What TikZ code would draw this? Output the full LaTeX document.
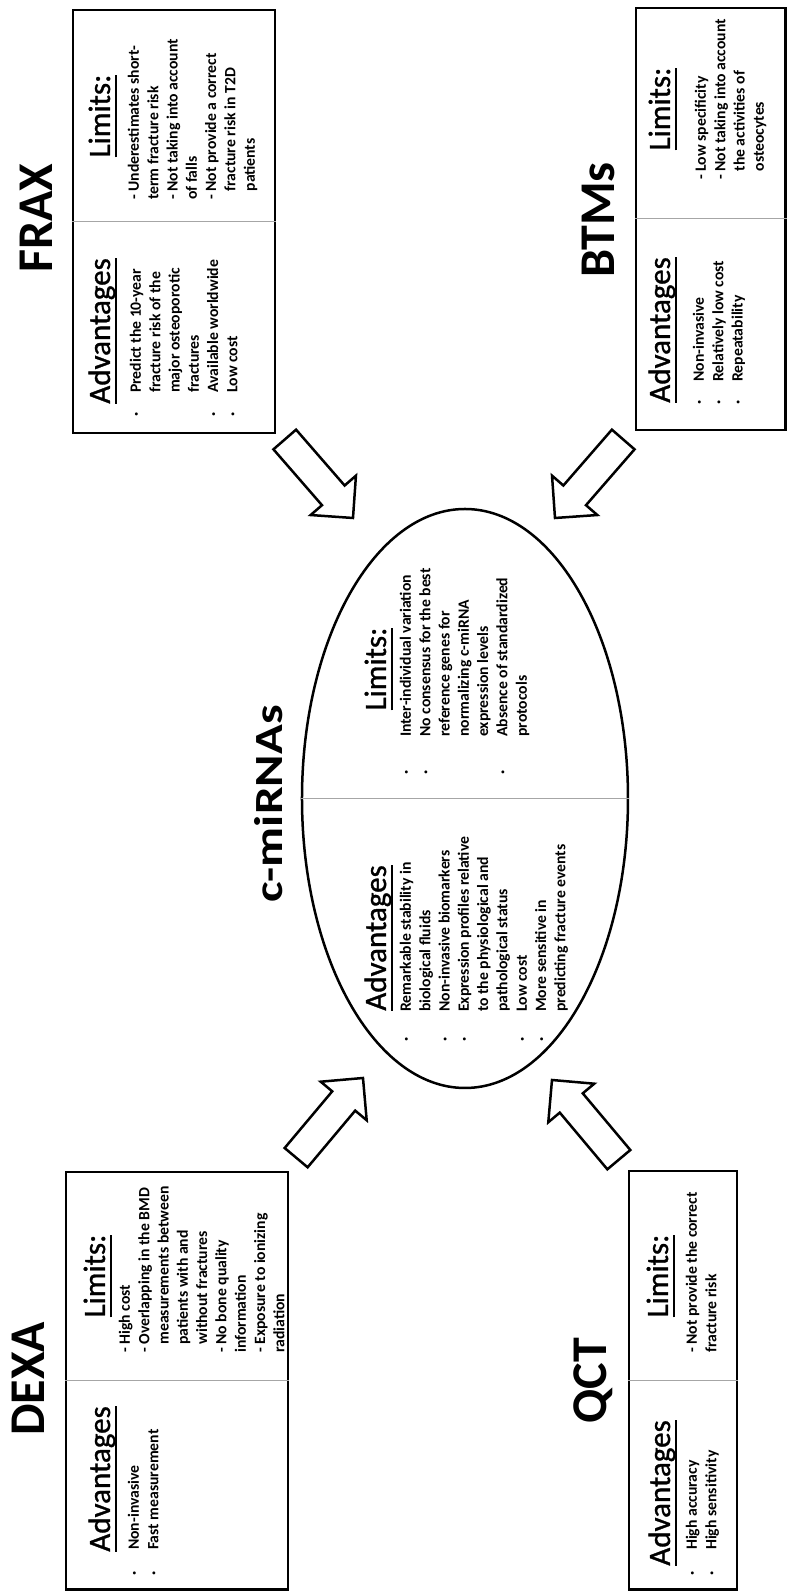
\documentclass[tikz,border=0pt]{standalone}
\usepackage{fontspec}
\setmainfont{Carlito}
\newfontfamily\headfont[FakeBold=1]{Carlito}
\usetikzlibrary{shapes.geometric}

\newcommand\headline[1]{\setbox0\hbox{#1}\rlap{\vrule height -5pt depth 7.2pt width \wd0}\box0}
\newcommand\bul[1]{\llap{·\hspace{#1}}}
\newcommand\ind{\hphantom{- }}

\tikzset{
    panel/.style={draw, line width=2.5pt, inner sep=0pt},
    divider/.style={draw=gray!70, line width=1pt},
    title/.style={font=\bfseries\fontsize{50}{60}\selectfont, anchor=base, inner sep=0pt},
    heading/.style={font=\headfont\fontsize{31}{37}\selectfont, anchor=base, inner sep=0pt},
    items/.style={font=\bfseries\fontsize{15.7}{19.3}\selectfont, anchor=base west, inner sep=0pt},
    blockarrow/.pic={
        \draw[line width=2.5pt, fill=white] (0,0) -- (-30,30) -- (-30,15) -- (-104,15)
            -- (-104,-15) -- (-30,-15) -- (-30,-30) -- cycle;
    }
}

\begin{document}
\begin{tikzpicture}[x=1pt, y=1pt, rotate=90, transform shape]
    \useasboundingbox (0,0) rectangle (1591,787);
    % centre
    \node[draw, ellipse, line width=2.5pt, inner sep=0pt, minimum width=579pt, minimum height=326pt] (cmirna) at (792.5,322) {};
    \draw[divider] (cmirna.north) -- (cmirna.south);
    \node[title, font=\bfseries\fontsize{40}{44}\selectfont, xscale=1.23] (cmtitle) at (787,504) {c-miRNAs};
    \node[heading] (cmadvh) at (653,401) {\headline{Advantages}};
    \node[heading] (cmlimh) at (922,401) {\headline{Limits:}};
    \node[items] (cmadv) at (579,376) {\begin{tabular}[t]{@{}l@{}}
        \bul{26pt}Remarkable stability in\\ biological fluids\\
        \bul{26pt}Non-invasive biomarkers\\
        \bul{26pt}Expression profiles relative\\ to the physiological and\\ pathological status\\
        \bul{26pt}Low cost\\
        \bul{26pt}More sensitive in\\ predicting fracture events
    \end{tabular}};
    \node[items] (cmlim) at (854,376) {\begin{tabular}[t]{@{}l@{}}
        \bul{34pt}Inter-individual variation\\
        \bul{34pt}No consensus for the best\\ reference genes for\\ normalizing c-miRNA\\ expression levels\\
        \bul{34pt}Absence of standardized\\ protocols
    \end{tabular}};
    % DEXA
    \node[panel, minimum width=417.5pt, minimum height=222pt] (dexa) at (210.25,610) {};
    \draw[divider] (dexa.north) -- (dexa.south);
    \node[title] (dexat) at (212,742) {DEXA};
    \node[heading] (dexaadvh) at (112,677) {\headline{Advantages}};
    \node[heading] (dexalimh) at (315,682) {\headline{Limits:}};
    \node[items] (dexaadv) at (41,648) {\begin{tabular}[t]{@{}l@{}}
        \bul{21pt}Non-invasive\\
        \bul{21pt}Fast measurement
    \end{tabular}};
    \node[items] (dexalim) at (238,657) {\begin{tabular}[t]{@{}l@{}}
        - High cost\\
        - Overlapping in the BMD\\ \ind measurements between\\ \ind patients with and\\ \ind without fractures\\
        - No bone quality\\ information\\
        - Exposure to ionizing\\ radiation
    \end{tabular}};
    % QCT
    \node[panel, minimum width=418.5pt, minimum height=108pt] (qct) at (210.75,104) {};
    \draw[divider] (qct.north) -- (qct.south);
    \node[title] (qctt) at (210.5,180) {QCT};
    \node[heading] (qctadvh) at (98,117) {\headline{Advantages}};
    \node[heading] (qctlimh) at (315,119) {\headline{Limits:}};
    \node[items] (qctadv) at (41,90) {\begin{tabular}[t]{@{}l@{}}
        \bul{21pt}High accuracy\\
        \bul{21pt}High sensitivity
    \end{tabular}};
    \node[items] (qctlim) at (238,90) {\begin{tabular}[t]{@{}l@{}}
        - Not provide the correct\\ fracture risk
    \end{tabular}};
    % FRAX
    \node[panel, minimum width=423pt, minimum height=202pt] (frax) at (1369.5,613) {};
    \draw[divider] (frax.north) -- (frax.south);
    \node[title] (fraxt) at (1373,734) {FRAX};
    \node[heading] (fraxadvh) at (1260,677) {\headline{Advantages}};
    \node[heading] (fraxlimh) at (1475,677) {\headline{Limits:}};
    \node[items] (fraxadv) at (1198,646) {\begin{tabular}[t]{@{}l@{}}
        \bul{20pt}Predict the 10-year\\ fracture risk of the\\ major osteoporotic\\ fractures\\
        \bul{20pt}Available worldwide\\
        \bul{20pt}Low cost
    \end{tabular}};
    \node[items] (fraxlim) at (1391,648) {\begin{tabular}[t]{@{}l@{}}
        - Underestimates short-\\ term fracture risk\\
        - Not taking into account\\ of falls\\
        - Not provide a correct\\ \ind fracture risk in T2D\\ \ind patients
    \end{tabular}};
    % BTMs
    \node[panel, minimum width=422pt, minimum height=149.5pt] (btms) at (1372,76.25) {};
    \draw[divider] (btms.north) -- (btms.south);
    \node[title] (btmst) at (1371,172) {BTMs};
    \node[heading] (btmsadvh) at (1261,117) {\headline{Advantages}};
    \node[heading] (btmslimh) at (1482,117) {\headline{Limits:}};
    \node[items] (btmsadv) at (1209,83) {\begin{tabular}[t]{@{}l@{}}
        \bul{19pt}Non-invasive\\
        \bul{19pt}Relatively low cost\\
        \bul{19pt}Repeatability
    \end{tabular}};
    \node[items] (btmslim) at (1411,81) {\begin{tabular}[t]{@{}l@{}}
        - Low specificity\\
        - Not taking into account\\ \ind the activities of\\ \ind osteocytes
    \end{tabular}};
    % arrows into the ellipse
    \coordinate (fraxtip) at (1073,434);
    \coordinate (btmstip) at (1073,232);
    \coordinate (dexatip) at (513,424);
    \coordinate (qcttip) at (511,235);
    \pic[rotate=221] at (fraxtip) {blockarrow};
    \pic[rotate=139] at (btmstip) {blockarrow};
    \pic[rotate=-40] at (dexatip) {blockarrow};
    \pic[rotate=40] at (qcttip) {blockarrow};
\end{tikzpicture}
\end{document}
